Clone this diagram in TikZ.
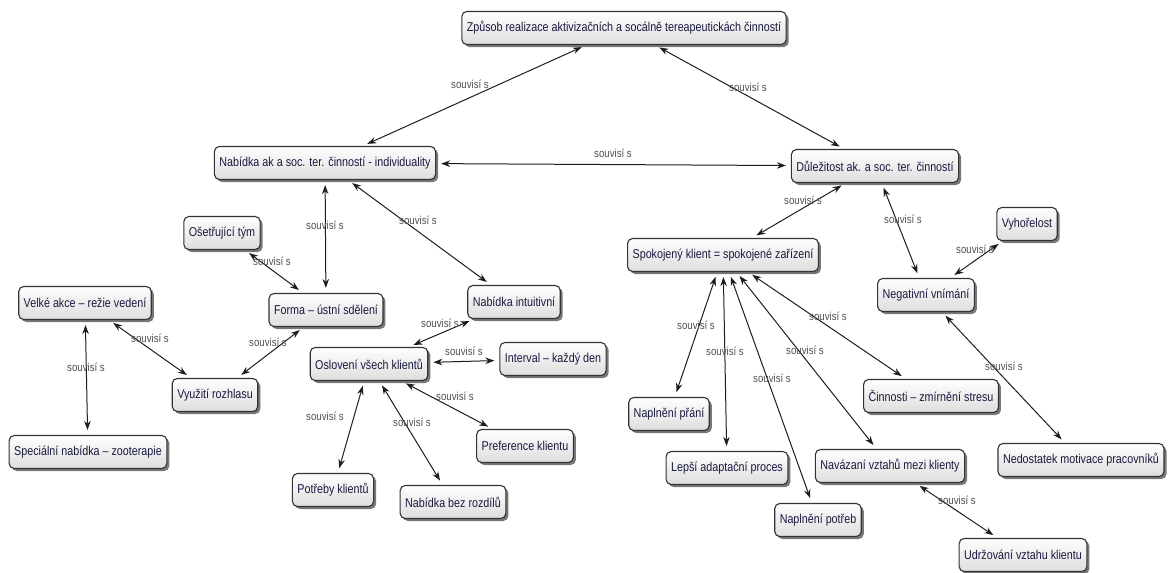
\documentclass[tikz,border=0pt]{standalone}
\usepackage{fontspec}
\setmainfont{Liberation Sans}[FakeStretch=0.84]
\usetikzlibrary{arrows.meta,shadows,calc}
\definecolor{txt}{HTML}{1A1A40}
\definecolor{labc}{HTML}{505050}
\definecolor{edgec}{HTML}{1E1E1E}
\definecolor{bord}{HTML}{333333}
\tikzset{
 concept/.style={draw=bord, line width=1.1pt, rounded corners=5pt, top color=white, bottom color=black!13, text=txt,
   font=\fontsize{12.8}{15}\selectfont, minimum height=33pt, inner xsep=5pt,
   drop shadow={shadow xshift=2.5pt, shadow yshift=-2.5pt, fill=black!70, opacity=0.75}},
 lab/.style={text=labc, font=\fontsize{11.5}{13}\selectfont, inner sep=1pt},
 link/.style={draw=edgec, line width=1pt, {Stealth[length=9pt,width=6.5pt]}-{Stealth[length=9pt,width=6.5pt]}, shorten <=5pt, shorten >=5pt},
}
\begin{document}
\begin{tikzpicture}[x=1pt,y=-1pt]
\useasboundingbox[fill=white] (0,0) rectangle (1168,573);
% concepts
\node[concept] (top) at (624,28) {Způsob realizace aktivizačních a socálně tereapeutickách činností};
\node[concept] (nab) at (325,163) {Nabídka ak a soc. ter. činností - individuality};
\node[concept] (dul) at (875,166) {Důležitost ak. a soc. ter. činností};
\node[concept] (ose) at (222,233) {Ošetřující tým};
\node[concept] (vel) at (85,303) {Velké akce – režie vedení};
\node[concept] (for) at (326,310) {Forma – ústní sdělení};
\node[concept] (int) at (514,302) {Nabídka intuitivní};
\node[concept] (osl) at (369,364) {Oslovení všech klientů};
\node[concept] (inv) at (553,359) {Interval – každý den};
\node[concept] (vyu) at (215,395) {Využití rozhlasu};
\node[concept] (spe) at (88,452) {Speciální nabídka – zooterapie};
\node[concept] (pre) at (525,446) {Preference klientu};
\node[concept] (pot) at (333,490) {Potřeby klientů};
\node[concept] (bez) at (453,502) {Nabídka bez rozdílů};
\node[concept] (spo) at (723,255) {Spokojený klient = spokojené zařízení};
\node[concept] (vyh) at (1027,224) {Vyhořelost};
\node[concept] (neg) at (926,295) {Negativní vnímání};
\node[concept] (pra) at (669,414) {Naplnění přání};
\node[concept] (cin) at (931,396) {Činnosti – zmírnění stresu};
\node[concept] (lep) at (727,468) {Lepší adaptační proces};
\node[concept] (nav) at (890,466) {Navázaní vztahů mezi klienty};
\node[concept] (ned) at (1081,460) {Nedostatek motivace pracovníků};
\node[concept] (npo) at (818,520) {Naplnění potřeb};
\node[concept] (udr) at (1023,555) {Udržování vztahu klientu};
% links
\draw[link] (top) -- (nab);
\draw[link] (top) -- (dul);
\draw[link] (nab) -- (dul);
\draw[link] (nab) -- (for);
\draw[link] (nab) -- (int);
\draw[link] (ose) -- (for);
\draw[link] (for) -- (vyu);
\draw[link] (vel) -- (vyu);
\draw[link] (vel) -- (spe);
\draw[link] (osl) -- (int);
\draw[link] (osl) -- (inv);
\draw[link] (osl) -- (pre);
\draw[link] (osl) -- (pot);
\draw[link] (osl) -- (bez);
\draw[link] (dul) -- (spo);
\draw[link] (dul) -- (neg);
\draw[link] (neg) -- (vyh);
\draw[link] (neg) -- (ned);
\draw[link] (spo) -- (pra);
\draw[link] (spo) -- (lep);
\draw[link] (spo) -- (npo);
\draw[link] (spo) -- (nav);
\draw[link] (spo) -- (cin);
\draw[link] (nav) -- (udr);
% labels
\node[lab] (l1) at (470,84) {souvisí s};
\node[lab] (l2) at (748,87) {souvisí s};
\node[lab] (l3) at (613,153) {souvisí s};
\node[lab] (l4) at (325,225) {souvisí s};
\node[lab] (l5) at (418,220) {souvisí s};
\node[lab] (l6) at (272,261) {souvisí s};
\node[lab] (l7) at (268,342) {souvisí s};
\node[lab] (l8) at (150,338) {souvisí s};
\node[lab] (l9) at (86,367) {souvisí s};
\node[lab] (l10) at (440,323) {souvisí s};
\node[lab] (l11) at (464,351) {souvisí s};
\node[lab] (l12) at (455,396) {souvisí s};
\node[lab] (l13) at (325,416) {souvisí s};
\node[lab] (l14) at (412,422) {souvisí s};
\node[lab] (l15) at (803,200) {souvisí s};
\node[lab] (l16) at (903,219) {souvisí s};
\node[lab] (l17) at (975,249) {souvisí s};
\node[lab] (l18) at (1004,366) {souvisí s};
\node[lab] (l19) at (696,325) {souvisí s};
\node[lab] (l20) at (725,351) {souvisí s};
\node[lab] (l21) at (772,378) {souvisí s};
\node[lab] (l22) at (805,350) {souvisí s};
\node[lab] (l23) at (828,316) {souvisí s};
\node[lab] (l24) at (957,500) {souvisí s};
\end{tikzpicture}
\end{document}
